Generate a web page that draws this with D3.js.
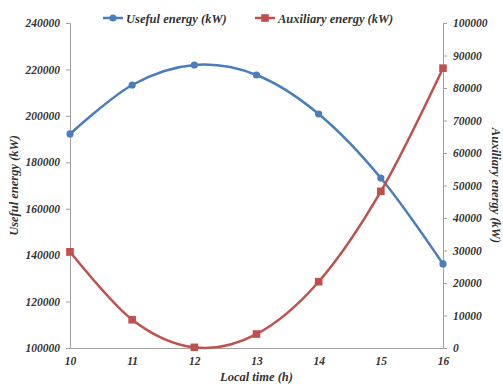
<!DOCTYPE html>
<html>
<head>
<meta charset="utf-8">
<script src="https://cdn.jsdelivr.net/npm/d3@7"></script>
<style>
  body { margin: 0; background: #fff; }
  text { font-family: "Liberation Serif", "DejaVu Serif", serif; font-style: italic; font-weight: bold; fill: #333; }
</style>
</head>
<body>
<div id="chart"></div>
<script>
// Chart data
const hours = [10, 11, 12, 13, 14, 15, 16];
const useful = [192200, 213300, 221900, 217600, 200800, 173200, 136200];
const auxiliary = [29600, 8700, 200, 4300, 20400, 48200, 86100];
const leftTicks = [100000, 120000, 140000, 160000, 180000, 200000, 220000, 240000];
const rightTicks = [0, 10000, 20000, 30000, 40000, 50000, 60000, 70000, 80000, 90000, 100000];

const width = 503;
const height = 387;
const margin = {left: 70, right: 60, top: 23, bottom: 39};

const blue = "#4a7ebb";
const red = "#c0504d";

const svg = d3.select("#chart")
  .append("svg")
  .attr("width", width)
  .attr("height", height);

// scales
const x = d3.scaleLinear()
  .domain([10, 16])
  .range([margin.left, width - margin.right]);

const yLeft = d3.scaleLinear()
  .domain([100000, 240000])
  .range([height - margin.bottom, margin.top]);

const yRight = d3.scaleLinear()
  .domain([0, 100000])
  .range([height - margin.bottom, margin.top]);

// axes
const gl = svg.append("g")
  .attr("transform", `translate(${margin.left},0)`)
  .call(d3.axisLeft(yLeft).tickValues(leftTicks).tickSize(4).tickPadding(6).tickFormat(d3.format("d")));

const gr = svg.append("g")
  .attr("transform", `translate(${width - margin.right},0)`)
  .call(d3.axisRight(yRight).tickValues(rightTicks).tickSize(4).tickPadding(6).tickFormat(d3.format("d")));

const gb = svg.append("g")
  .attr("transform", `translate(0,${height - margin.bottom})`)
  .call(d3.axisBottom(x).tickValues(hours).tickSize(0).tickPadding(9).tickFormat(d3.format("d")));

[gl, gr, gb].forEach(g => {
  g.select(".domain").attr("stroke", "#a0a0a0");
  g.selectAll(".tick line").attr("stroke", "#a0a0a0");
  g.selectAll(".tick text")
    .attr("font-family", "Liberation Serif")
    .attr("font-size", 11.5)
    .style("font-style", "italic")
    .style("font-weight", "bold")
    .attr("fill", "#333");
});

// lines
const line = (yScale) => d3.line()
  .x((d, i) => x(hours[i]))
  .y(d => yScale(d))
  .curve(d3.curveCatmullRom.alpha(0));

svg.append("path")
  .datum(useful)
  .attr("fill", "none")
  .attr("stroke", blue)
  .attr("stroke-width", 2.5)
  .attr("d", line(yLeft));

svg.append("path")
  .datum(auxiliary)
  .attr("fill", "none")
  .attr("stroke", red)
  .attr("stroke-width", 2.5)
  .attr("d", line(yRight));

// markers
svg.selectAll(".dot")
  .data(useful)
  .enter()
  .append("circle")
    .attr("class", "dot")
    .attr("cx", (d, i) => x(hours[i]))
    .attr("cy", d => yLeft(d))
    .attr("r", 3.6)
    .attr("fill", blue);

svg.selectAll(".sq")
  .data(auxiliary)
  .enter()
  .append("rect")
    .attr("class", "sq")
    .attr("x", (d, i) => x(hours[i]) - 3.8)
    .attr("y", d => yRight(d) - 3.8)
    .attr("width", 7.6)
    .attr("height", 7.6)
    .attr("fill", red);

// axis titles
svg.append("text")
  .attr("x", (margin.left + width - margin.right) / 2)
  .attr("y", 381)
  .attr("text-anchor", "middle")
  .attr("font-size", 12.5)
  .text("Local time (h)");

svg.append("text")
  .attr("transform", `translate(18,${(margin.top + height - margin.bottom) / 2}) rotate(-90)`)
  .attr("text-anchor", "middle")
  .attr("font-size", 12.5)
  .text("Useful energy (kW)");

svg.append("text")
  .attr("transform", `translate(492,${(margin.top + height - margin.bottom) / 2}) rotate(90)`)
  .attr("text-anchor", "middle")
  .attr("font-size", 12.5)
  .text("Auxiliary energy (kW)");

// legend
const legend = [
  {name: "Useful energy (kW)", color: blue, shape: "circle", x: 103},
  {name: "Auxiliary energy (kW)", color: red, shape: "square", x: 255}
];

const lg = svg.selectAll(".legend")
  .data(legend)
  .enter()
  .append("g")
    .attr("class", "legend")
    .attr("transform", d => `translate(${d.x},18)`);

lg.append("line")
  .attr("x1", 0).attr("x2", 20)
  .attr("stroke", d => d.color)
  .attr("stroke-width", 2.5);

lg.filter(d => d.shape === "circle").append("circle")
  .attr("cx", 10).attr("r", 3.6)
  .attr("fill", d => d.color);

lg.filter(d => d.shape === "square").append("rect")
  .attr("x", 6.2).attr("y", -3.8).attr("width", 7.6).attr("height", 7.6)
  .attr("fill", d => d.color);

lg.append("text")
  .attr("x", 23)
  .attr("y", 4.5)
  .attr("font-size", 12.5)
  .text(d => d.name);
</script>
</body>
</html>
